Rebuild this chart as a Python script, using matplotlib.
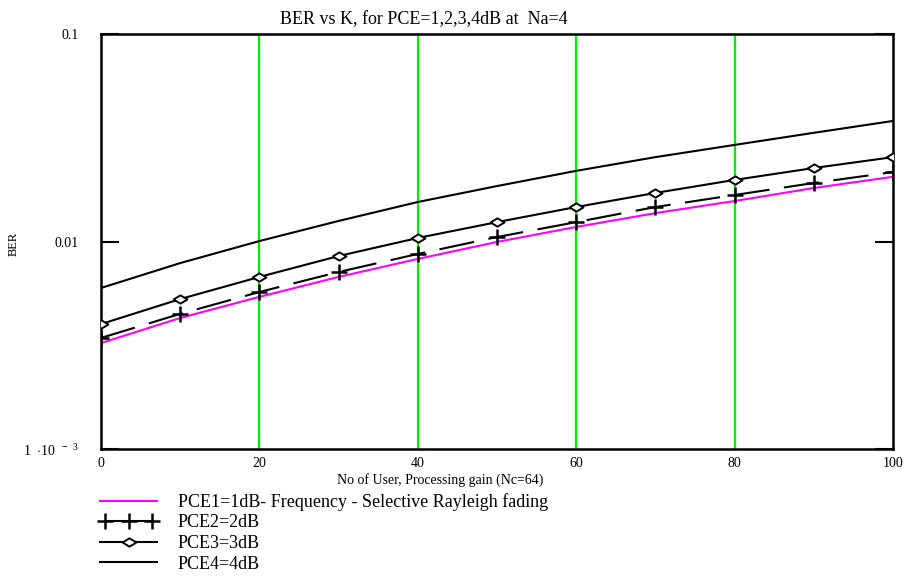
import matplotlib
matplotlib.use("Agg")
import matplotlib.pyplot as plt
from matplotlib.lines import Line2D
from matplotlib.legend_handler import HandlerLine2D

plt.rcParams["font.family"] = "Liberation Serif"
plt.rcParams["mathtext.fontset"] = "custom"
plt.rcParams["mathtext.rm"] = "Liberation Serif"
plt.rcParams["mathtext.bf"] = "Liberation Serif:bold"

K = [0, 10, 20, 30, 40, 50, 60, 70, 80, 90, 100]
pce1 = [0.00324, 0.00428, 0.00541, 0.00675, 0.00824, 0.00995, 0.01175, 0.0137, 0.01567, 0.0181, 0.0205]
pce2 = [0.00343, 0.00448, 0.00571, 0.00713, 0.00871, 0.01051, 0.0124, 0.01466, 0.01675, 0.01914, 0.0216]
pce3 = [0.0040, 0.00528, 0.00675, 0.00851, 0.0104, 0.0124, 0.01466, 0.01714, 0.0198, 0.0226, 0.0255]
pce4 = [0.00597, 0.00787, 0.01005, 0.01256, 0.0155, 0.0185, 0.0219, 0.0255, 0.0292, 0.0334, 0.0381]
grid_x = [20, 40, 60, 80]
yticks = [0.001, 0.01, 0.1]
ytick_labels = [r"1  $\cdot$10  $^{\mathbf{-}\;\;3}$", "0.01", "0.1"]
labels = ["PCE1=1dB- Frequency - Selective Rayleigh fading", "PCE2=2dB", "PCE3=3dB", "PCE4=4dB"]

# flat diamond like the original
flat_diamond = [(-1, 0), (0, 0.6), (1, 0), (0, -0.6), (-1, 0)]

fig = plt.figure(figsize=(9.05, 5.77), dpi=100)
ax = fig.add_axes([0.1116, 0.2218, 0.8751, 0.7193])

for gx in grid_x:
    ax.axvline(gx, color="#00ee00", lw=1.6, zorder=1)

ax.plot(K, pce1, color="magenta", lw=1.5, zorder=3)
ax.plot(K, pce2, color="black", lw=1.5, ls=(0, (17, 7)), marker="+", ms=11, mew=1.8, zorder=3)
ax.plot(K, pce3, color="black", lw=1.5, marker=flat_diamond, ms=10, mfc="white", mew=1.4, zorder=3)
ax.plot(K, pce4, color="black", lw=1.5, zorder=3)

ax.set_yscale("log")
ax.set_xlim(0, 100)
ax.set_ylim(0.001, 0.1)
ax.set_yticks(yticks)
ax.set_yticklabels(ytick_labels)
ax.minorticks_off()
ax.set_xticks([0, 20, 40, 60, 80, 100])
ax.tick_params(axis="y", direction="in", length=13, width=1.5, left=True, right=True, pad=16, labelsize=10)
ax.tick_params(axis="x", length=0, pad=6, labelsize=10)
for s in ax.spines.values():
    s.set_linewidth(1.8)

fig.text(424 / 905, 1 - 20 / 577, "BER vs K, for PCE=1,2,3,4dB at  Na=4", fontsize=13, ha="center", va="center")
fig.text(440 / 905, 1 - 480 / 577, "No of User, Processing gain (Nc=64)", fontsize=10, ha="center", va="center")
fig.text(14 / 905, 1 - 244 / 577, "BER", fontsize=9, rotation=90, ha="center", va="center")

handles = [
    Line2D([], [], color="magenta", lw=1.5),
    Line2D([], [], color="black", lw=1.5, marker="+", ms=11, mew=1.8),
    Line2D([], [], color="black", lw=1.5, marker=flat_diamond, ms=10, mfc="white", mew=1.4),
    Line2D([], [], color="black", lw=1.5),
]
fig.legend(handles, labels, loc="upper left", bbox_to_anchor=(100 / 905, 1 - 493 / 577), frameon=False,
           fontsize=13, handlelength=3.16, handletextpad=1.16, labelspacing=0.2,
           borderpad=0, borderaxespad=0,
           handler_map={handles[1]: HandlerLine2D(numpoints=3)})

fig.savefig("out.png", dpi=100)
